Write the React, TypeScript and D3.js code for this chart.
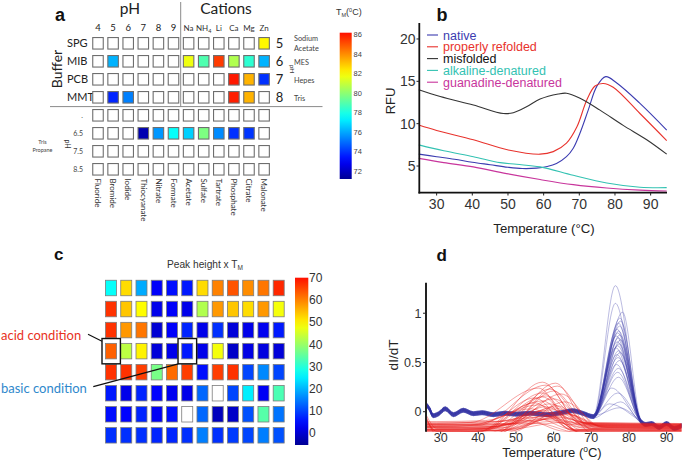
import React from 'react';
import * as d3 from 'd3';

// ================= Panel a data =================
const phCols = ['4', '5', '6', '7', '8', '9'];
const cationCols = ['Na', 'NH', 'Li', 'Ca', 'Mg', 'Zn'];
const cationSubs = ['', '4', '', '', '', ''];
const bufferRows = ['SPG', 'MIB', 'PCB', 'MMT'];
const bufferPh = ['5', '6', '7', '8'];
const bufferNames = [['Sodium', 'Acetate'], ['MES'], ['Hepes'], ['Tris']];
const trisPhRows = ['.', '6.5', '7.5', '8.5'];
const anionCols = ['Fluoride', 'Bromide', 'Iodide', 'Thiocyanate', 'Nitrate', 'Formate', 'Acetate', 'Sulfate', 'Tartrate', 'Phosphate', 'Citrate', 'Malonate'];
const _ = null;
const tmValues: (number | null)[][] = [
  [_, _, _, _, _, _, _, _, _, _, _, 82.1],
  [_, 76.2, _, _, _, _, 81.7, 78.9, 85.4, 80.6, 78.3, 76.2],
  [_, _, _, _, _, _, _, _, _, 86.0, 83.3, 73.9],
  [_, 73.7, 75.3, _, _, _, _, _, _, 85.9, 83.3, _],
  [_, _, _, _, _, _, _, _, _, _, _, _],
  [_, _, _, 71.7, 75.7, 77.6, 76.7, 79.7, 75.5, 73.9, 74.0, _],
  [_, _, _, _, _, _, _, _, _, _, _, _],
  [_, _, _, _, _, _, _, _, _, _, _, _],
];
const tmTicks = [72, 74, 76, 78, 80, 82, 84, 86];

// ================= Panel b data =================
const tempTicksB = [30, 40, 50, 60, 70, 80, 90];
const rfuTicks = [5, 10, 15, 20];
const seriesNamesB = ['native', 'properly refolded', 'misfolded', 'alkaline-denatured', 'guanadine-denatured'];
const seriesColorsB = ['#3b3bb0', '#e8322c', '#333333', '#33c2b2', '#c8359c'];
const nativeCurve: [number, number][] = [[25, 6.4], [30, 6.1], [35, 5.8], [40, 5.45], [45, 5.15], [50, 4.85], [54, 4.7], [58, 4.75], [61, 4.95], [63.6, 5.3], [66.4, 6.1], [68.3, 7.1], [70.2, 8.9], [72.5, 11.6], [74.9, 14.4], [77.4, 15.55], [80.5, 14.8], [87, 12.4], [94.5, 9.25]];
const refoldedCurve: [number, number][] = [[25, 9.84], [30, 9.2], [40.3, 8.1], [50.1, 6.9], [59, 6.4], [62.7, 6.7], [66.4, 7.7], [69.3, 9.6], [72.1, 12.8], [74.4, 14.45], [76.7, 14.75], [79.5, 14.3], [87, 11.2], [94.5, 8.0]];
const misfoldedCurve: [number, number][] = [[25, 14.0], [31, 13.2], [40.3, 12.2], [48.7, 11.2], [51.5, 11.3], [55.2, 12.0], [59, 12.9], [64.1, 13.5], [66.4, 13.6], [70.2, 13.0], [75.8, 11.6], [82.3, 9.8], [88.9, 8.1], [94.5, 6.4]];
const alkalineCurve: [number, number][] = [[25, 7.5], [32, 6.8], [40.3, 6.1], [47.8, 5.4], [52.4, 5.2], [59, 4.9], [68.3, 3.9], [77.7, 3.0], [87, 2.5], [94.5, 2.45]];
const guanadineCurve: [number, number][] = [[25, 5.9], [32, 5.4], [40.3, 4.9], [49.6, 4.1], [59, 3.4], [68.3, 2.8], [77.7, 2.4], [87, 2.15], [94.5, 2.05]];
const curvesB = [nativeCurve, refoldedCurve, misfoldedCurve, alkalineCurve, guanadineCurve];

// ================= Panel c data =================
const heightValues: (number | null)[][] = [
  [26.8, 52, 19, 3.4, 5, 6, 52, 60, 64, 59, 61, 68],
  [67, 54, 49, 2, 3.5, 2, 42, 58, 54, 52, 58, 48],
  [67, 58, 61, 0, 3.5, 7, 2, 8, 0.5, 2, 2.5, 6],
  [63, 43, 50, 0.5, 2, 6, 2, 48, -1, 1.5, 1, 0.5],
  [67, 67, 66, 37, 62, 66, 5, 66, 67, 10, 16, 10],
  [6, 2, 7, 4, 2.5, 2, 13, null, 10, 25, 3, 33],
  [5, 4, 7, 3, 5, null, 13, -2, -1, 11, 34, 14],
  [8, 8, 8, 7, 7, 8, 15, 8, 9, 10, 15, 11],
];
const heightTicks = [0, 10, 20, 30, 40, 50, 60, 70];

// ================= Panel d data =================
const tempTicksD = [30, 40, 50, 60, 70, 80, 90];
const didtTicks = [0, 0.5, 1];
const blueBaseline: [number, number][] = [[26, 0.08], [27, 0.03], [28, -0.04], [29.5, -0.02], [31.2, 0.03], [33.4, -0.03], [36, 0.015], [38.7, -0.02], [41, -0.01], [44, -0.03], [47, -0.015], [50, -0.025], [54, -0.015], [58, -0.03], [62, -0.01], [65, 0.01], [68, -0.02], [70.5, -0.05]];
const blueTail: [number, number][] = [[83.2, -0.1], [84.5, -0.13], [86, -0.12], [88, -0.16], [90, -0.12], [92, -0.17], [94, -0.14]];
const blueCenter = [76.4, 76.4, 78.3, 77.6, 77.8, 77.2, 77.5, 76.8, 77.3, 77.0, 77.6, 76.6, 77.2, 77.8, 76.9, 77.4, 77.0, 76.5, 77.3, 77.7, 76.8, 77.1, 77.5, 76.7, 77.2, 77.0, 77.2, 75.4, 77.0, 77.8, 74.8, 77.5];
const blueHeight = [1.28, 1.10, 1.01, 0.95, 0.92, 0.90, 0.87, 0.84, 0.82, 0.80, 0.78, 0.77, 0.75, 0.73, 0.71, 0.69, 0.67, 0.65, 0.62, 0.60, 0.58, 0.55, 0.52, 0.48, 0.44, 0.40, 0.35, 0.24, 0.19, 0.10, 0.08, 0.04];
const blueOffset = [0.01, -0.01, 0.02, 0, -0.02, 0.015, -0.005, 0.005, -0.015, 0.01, 0, -0.01, 0.02, -0.02, 0.005, -0.005, 0.015, 0, -0.01, 0.01, -0.015, 0.02, 0, -0.02, 0.01, -0.005, 0.005, -0.01, 0.015, -0.015, 0, 0.01];
const redCenter = [57, 60.5, 58, 61, 56, 59, 60, 57, 62, 58, 55, 60, 57, 63, 59, 56, 61, 58, 54, 60, 57, 62, 59, 56, 64, 58, 61, 55, 60, 57, 53, 59, 62, 56, 58, 60, 55, 63, 57, 61];
const redHeight = [0.30, 0.29, 0.27, 0.26, 0.24, 0.23, 0.21, 0.19, 0.18, 0.16, 0.14, 0.13, 0.11, 0.10, 0.08, 0.07, 0.06, 0.05, 0.03, 0.02, 0.01, 0.0, -0.01, -0.02, -0.03, -0.04, -0.05, -0.06, -0.07, -0.08, -0.09, -0.10, -0.11, -0.12, -0.04, 0.04, 0.09, -0.02, 0.15, -0.06];
const redStart = [-0.18, -0.05, -0.15, -0.20, -0.12, -0.24, -0.02, -0.21, -0.14, -0.19, -0.23, -0.16, -0.10, -0.06, -0.25, -0.13, -0.18, -0.22, -0.15, -0.11, -0.19, -0.03, -0.16, -0.21, -0.13, -0.18, -0.23, -0.14, -0.08, -0.17, -0.12, -0.22, -0.19, -0.15, -0.25, -0.16, -0.21, -0.13, -0.18, -0.20];
const redLeft = [-0.18, -0.22, -0.15, -0.20, -0.12, -0.24, -0.17, -0.21, -0.14, -0.19, -0.23, -0.16, -0.10, -0.20, -0.25, -0.13, -0.18, -0.22, -0.15, -0.11, -0.19, -0.24, -0.16, -0.21, -0.13, -0.18, -0.23, -0.14, -0.20, -0.17, -0.12, -0.22, -0.19, -0.15, -0.25, -0.16, -0.21, -0.13, -0.18, -0.20];
const redRise = [42, 45, 40, 46, 38, 44, 47, 41, 48, 43, 39, 45, 42, 49, 44, 40, 46, 43, 38, 45, 41, 47, 44, 40, 50, 43, 46, 39, 45, 42, 37, 44, 48, 41, 43, 45, 40, 49, 42, 46];
const redFall = [68, 70, 67, 71, 66, 69, 70, 67, 72, 68, 65, 70, 67, 73, 69, 66, 71, 68, 64, 70, 67, 72, 69, 66, 74, 68, 71, 65, 70, 67, 63, 69, 72, 66, 68, 70, 65, 73, 67, 71];
const redRight = [-0.14, -0.18, -0.12, -0.16, -0.2, -0.13, -0.17, -0.22, -0.15, -0.11, -0.19, -0.14, -0.21, -0.16, -0.12, -0.18, -0.23, -0.15, -0.13, -0.17, -0.2, -0.14, -0.12, -0.19, -0.16, -0.22, -0.13, -0.18, -0.15, -0.11, -0.2, -0.17, -0.14, -0.21, -0.16, -0.12, -0.19, -0.15, -0.18, -0.13];

// ================= helpers =================
const clamp01 = (x: number) => Math.max(0, Math.min(1, x));
const jet = (t: number) =>
  d3.rgb(255 * clamp01(1.5 - Math.abs(4 * t - 3)), 255 * clamp01(1.5 - Math.abs(4 * t - 2)), 255 * clamp01(1.5 - Math.abs(4 * t - 1))).formatHex();
const T0 = 0.02, T1 = 0.86;
const gradStops = d3.range(0, 1.0001, 0.05);

const SANS = 'Liberation Sans, Arial, sans-serif';
const CAL = 'Lato, Open Sans, sans-serif';

export default function App() {
  // ---- panel a scales
  const colA = d3.scalePoint<number>().domain(d3.range(12)).range([98, 264.1]);
  const rowA = d3.scalePoint<number>().domain(d3.range(8)).range([43.3, 169.3]);
  const tmT = d3.scaleLinear().domain([71.2, 86.16]).range([T0, T1]);
  const tmBarY = d3.scaleLinear().domain([71.2, 86.16]).range([179, 32.7]);
  const sqWA = 10.5, sqHA = 11.5;

  // ---- panel b scales
  const xB = d3.scaleLinear().domain([25, 94.5]).range([418.8, 666.7]);
  const yB = d3.scaleLinear().domain([1.85, 21.85]).range([192.7, 23.3]);
  const lineB = d3.line<[number, number]>().x(d => xB(d[0])).y(d => yB(d[1])).curve(d3.curveCatmullRom.alpha(0.5));

  // ---- panel c scales
  const colC = d3.scalePoint<number>().domain(d3.range(12)).range([111, 278.7]);
  const rowC = d3.scalePoint<number>().domain(d3.range(8)).range([288, 435.3]);
  const htT = d3.scaleLinear().domain([-5.6, 70.1]).range([T0, T1]);
  const htBarY = d3.scaleLinear().domain([-5.6, 70.1]).range([445, 277.7]);
  const sqWC = 11, sqHC = 15.5;

  // ---- panel d scales
  const xD = d3.scaleLinear().domain([26, 94]).range([425.6, 681.7]);
  const yD = d3.scaleLinear().domain([-0.203, 1.31]).range([431.7, 282.7]);
  const lineD = d3.line<[number, number]>().x(d => xD(d[0])).y(d => yD(d[1])).curve(d3.curveMonotoneX);

  const blueCurves = blueCenter.map((c, i) => {
    const o = blueOffset[i];
    const pts: [number, number][] = [
      ...blueBaseline.map(([t, v]) => [t, v + o] as [number, number]),
      [c, blueHeight[i]],
      ...blueTail.map(([t, v]) => [t, v + o] as [number, number]),
    ];
    return pts;
  });
  const redCurves = redCenter.map((c, i) => {
    const pts: [number, number][] = [
      [26, redStart[i]],
      [29, redLeft[i]],
      [redRise[i], redLeft[i] + 0.01],
      [c, redHeight[i]],
      [redFall[i], redRight[i]],
      [94, redRight[i] - 0.01],
    ];
    return pts;
  });

  return (
    <svg width={684} height={472} style={{ display: 'block', background: '#fff' }}>
      <style>{`body{margin:0}`}</style>
      <defs>
        <linearGradient id="jetA" x1="0" y1="1" x2="0" y2="0">
          {gradStops.map(s => <stop key={s} offset={s} stopColor={jet(T0 + s * (T1 - T0))} />)}
        </linearGradient>
        <clipPath id="clipD">
          <rect x={xD(26)} y={yD(1.31)} width={xD(94) - xD(26)} height={yD(-0.203) - yD(1.31)} />
        </clipPath>
      </defs>
      <rect x={0} y={0} width={684} height={472} fill="#fff" />

      {/* ================= Panel a ================= */}
      <g opacity={0.995}>
      <text x={55} y={21} fontFamily={SANS} fontWeight="bold" fontSize={18} fill="#111">a</text>
      <text x={130} y={14} textAnchor="middle" fontFamily={CAL} fontSize={15.5} fill="#222">pH</text>
      <text x={226} y={14} textAnchor="middle" fontFamily={CAL} fontSize={15.5} fill="#222">Cations</text>
      {phCols.map((l, i) => (
        <text key={'ph' + i} x={colA(i)} y={30.5} textAnchor="middle" fontFamily={CAL} fontSize={9.5} fill="#222">{l}</text>
      ))}
      {cationCols.map((l, i) => (
        <text key={'ca' + i} x={colA(6 + i)} y={30.5} textAnchor="middle" fontFamily={CAL} fontSize={8} fill="#333">
          {l}
          {cationSubs[i] ? <tspan fontSize={5.5} dy={2}>{cationSubs[i]}</tspan> : null}
        </text>
      ))}
      {bufferRows.map((l, i) => (
        <text key={'br' + i} x={67} y={(rowA(i) as number) + 3.8} fontFamily={CAL} fontSize={11} fill="#222">{l}</text>
      ))}
      <text transform="translate(61.5,69) rotate(-90)" textAnchor="middle" fontFamily={CAL} fontSize={14} fill="#222">Buffer</text>
      {bufferPh.map((l, i) => (
        <text key={'bp' + i} x={279.5} y={(rowA(i) as number) + 4.6} textAnchor="middle" fontFamily={CAL} fontSize={13} fill="#222">{l}</text>
      ))}
      <text transform="translate(289.5,69) rotate(90)" textAnchor="middle" fontFamily={CAL} fontSize={6.5} fill="#333">pH</text>
      {bufferNames.map((names, i) =>
        names.map((n, j) => (
          <text key={'bn' + i + j} x={294} y={(rowA(i) as number) + (names.length > 1 ? -2.6 + j * 10 : 3.5)} fontFamily={CAL} fontSize={7.3} fill="#444">{n}</text>
        ))
      )}
      {trisPhRows.map((l, i) => (
        <text key={'tp' + i} x={83} y={(rowA(4 + i) as number) + 2.5} textAnchor="end" fontFamily={CAL} fontSize={7} fill="#444">{l}</text>
      ))}
      <text transform="translate(64.5,144) rotate(90)" textAnchor="middle" fontFamily={CAL} fontSize={7} fill="#333">pH</text>
      <text x={42.5} y={143.5} textAnchor="middle" fontFamily={CAL} fontSize={5.5} fill="#444">Tris</text>
      <text x={42.5} y={151.5} textAnchor="middle" fontFamily={CAL} fontSize={5.5} fill="#444">Propane</text>
      </g>
      <line x1={50} x2={322.5} y1={106.6} y2={106.6} stroke="#8a8a8a" strokeWidth={1} />
      <line x1={180.7} x2={180.7} y1={2} y2={106.6} stroke="#8a8a8a" strokeWidth={1} />
      {tmValues.map((row, r) =>
        row.map((v, c) => (
          <rect key={'a' + r + '-' + c}
            x={(colA(c) as number) - sqWA / 2} y={(rowA(r) as number) - sqHA / 2}
            width={sqWA} height={sqHA}
            fill={v == null ? '#fff' : jet(tmT(v))} stroke="#6e6e6e" strokeWidth={1.1} />
        ))
      )}
      <g opacity={0.995}>
      {anionCols.map((l, i) => (
        <text key={'an' + i} transform={`translate(${(colA(i) as number) - 2.8},178.5) rotate(90)`} fontFamily={CAL} fontSize={8} fill="#333">{l}</text>
      ))}
      </g>
      {/* colorbar a */}
      <rect x={339.7} y={tmBarY(86.16)} width={12} height={tmBarY(71.2) - tmBarY(86.16)} fill="url(#jetA)" />
      {tmTicks.map(t => (
        <text key={'tmt' + t} x={353.5} y={tmBarY(t) + 2.7} fontFamily={SANS} fontSize={7.5} fill="#444">{t}</text>
      ))}
      <text x={336} y={15} fontFamily={SANS} fontSize={9} fill="#333">
        T<tspan fontSize={5.5} dy={1.5}>M</tspan><tspan dy={-1.5}>(</tspan><tspan fontSize={5.5} dy={-3}>0</tspan><tspan dy={3}>C)</tspan>
      </text>

      {/* ================= Panel b ================= */}
      <text x={436.5} y={21} fontFamily={SANS} fontWeight="bold" fontSize={18} fill="#111">b</text>
      {curvesB.map((c, i) => (
        <path key={'b' + i} d={lineB(c) || ''} fill="none" stroke={seriesColorsB[i]} strokeWidth={1.1} />
      ))}
      <line x1={419.3} x2={419.3} y1={23} y2={193.5} stroke="#111" strokeWidth={1.8} />
      <line x1={418.5} x2={667} y1={192.7} y2={192.7} stroke="#111" strokeWidth={1.8} />
      {rfuTicks.map(t => (
        <g key={'ry' + t}>
          <line x1={416.5} x2={419.3} y1={yB(t)} y2={yB(t)} stroke="#222" strokeWidth={1} />
          <text x={415.5} y={yB(t) + 5} textAnchor="end" fontFamily={SANS} fontSize={14} fill="#333">{t}</text>
        </g>
      ))}
      {tempTicksB.map(t => (
        <g key={'bx' + t}>
          <line x1={xB(t)} x2={xB(t)} y1={192.7} y2={195.5} stroke="#222" strokeWidth={1} />
          <text x={xB(t)} y={208.5} textAnchor="middle" fontFamily={SANS} fontSize={14} fill="#333">{t}</text>
        </g>
      ))}
      <text transform="translate(394.5,101) rotate(-90)" textAnchor="middle" fontFamily={SANS} fontSize={13} fill="#222">RFU</text>
      <text x={544} y={233} textAnchor="middle" fontFamily={SANS} fontSize={13.2} fill="#222">Temperature (°C)</text>
      {seriesNamesB.map((n, i) => {
        const y = 35 + i * 11.8;
        return (
          <g key={'lg' + i}>
            <line x1={427} x2={438} y1={y} y2={y} stroke={seriesColorsB[i]} strokeWidth={1.1} />
            <text x={443} y={y + 4.5} fontFamily={SANS} fontSize={12.5} fill={seriesColorsB[i] === '#333333' ? '#111' : seriesColorsB[i]}>{n}</text>
          </g>
        );
      })}

      {/* ================= Panel c ================= */}
      <text x={54} y={260} fontFamily={SANS} fontWeight="bold" fontSize={17} fill="#111">c</text>
      <text x={205} y={267.5} textAnchor="middle" fontFamily={SANS} fontSize={10.2} fill="#333">
        Peak height x T<tspan fontSize={6.5} dy={2.5}>M</tspan>
      </text>
      {heightValues.map((row, r) =>
        row.map((v, c) => (
          <rect key={'c' + r + '-' + c}
            x={(colC(c) as number) - sqWC / 2} y={(rowC(r) as number) - sqHC / 2}
            width={sqWC} height={sqHC}
            fill={v == null ? '#fff' : jet(htT(v))} stroke="#7d7d7d" strokeWidth={0.8} />
        ))
      )}
      <rect x={(colC(0) as number) - 9} y={(rowC(3) as number) - 12.6} width={18.4} height={25.3} fill="none" stroke="#111" strokeWidth={1.4} />
      <rect x={(colC(5) as number) - 9.2} y={(rowC(3) as number) - 12.6} width={18.6} height={25.3} fill="none" stroke="#111" strokeWidth={1.4} />
      <line x1={88} y1={334.3} x2={102} y2={341.2} stroke="#111" strokeWidth={1.2} />
      <line x1={93.3} y1={386.7} x2={178.3} y2={363.8} stroke="#111" strokeWidth={1.2} />
      <text x={1} y={339.5} fontFamily={CAL} fontSize={13} fill="#e8321e">acid condition</text>
      <text x={1} y={392.5} fontFamily={CAL} fontSize={13} fill="#2f88cc">basic condition</text>
      {/* colorbar c */}
      <rect x={295} y={htBarY(70.1)} width={13.3} height={htBarY(-5.6) - htBarY(70.1)} fill="url(#jetA)" />
      {heightTicks.map(t => (
        <text key={'ht' + t} x={309} y={htBarY(t) + 4.3} fontFamily={SANS} fontSize={12} fill="#333">{t}</text>
      ))}

      {/* ================= Panel d ================= */}
      <text x={436.5} y={261} fontFamily={SANS} fontWeight="bold" fontSize={17} fill="#111">d</text>
      <g clipPath="url(#clipD)">
        {blueCurves.map((c, i) => (
          <path key={'bl' + i} d={lineD(c) || ''} fill="none" stroke="#3535a5" strokeOpacity={0.45} strokeWidth={0.75} />
        ))}
        {redCurves.map((c, i) => (
          <path key={'rd' + i} d={lineD(c) || ''} fill="none" stroke="#e8201c" strokeOpacity={0.55} strokeWidth={0.75} />
        ))}
      </g>
      <line x1={426} x2={426} y1={282.7} y2={431.7} stroke="#222" strokeWidth={2} />
      {didtTicks.map(t => (
        <g key={'dy' + t}>
          <line x1={423} x2={426} y1={yD(t)} y2={yD(t)} stroke="#222" strokeWidth={1} />
          <text x={421.5} y={yD(t) + 4.5} textAnchor="end" fontFamily={SANS} fontSize={12.5} fill="#333">{t}</text>
        </g>
      ))}
      {tempTicksD.map(t => (
        <g key={'dx' + t}>
          <line x1={xD(t)} x2={xD(t)} y1={431.7} y2={434.2} stroke="#222" strokeWidth={1} />
          <text x={xD(t)} y={442} textAnchor="middle" fontFamily={SANS} fontSize={12.5} fill="#333">{t}</text>
        </g>
      ))}
      <text transform="translate(397.5,355) rotate(-90)" textAnchor="middle" fontFamily={SANS} fontSize={13.5} fill="#222">dI/dT</text>
      <text x={552} y={456.5} textAnchor="middle" fontFamily={SANS} fontSize={13} fill="#222">
        Temperature (<tspan fontSize={8.5} dy={-4.5}>o</tspan><tspan dy={4.5}>C)</tspan>
      </text>
    </svg>
  );
}
